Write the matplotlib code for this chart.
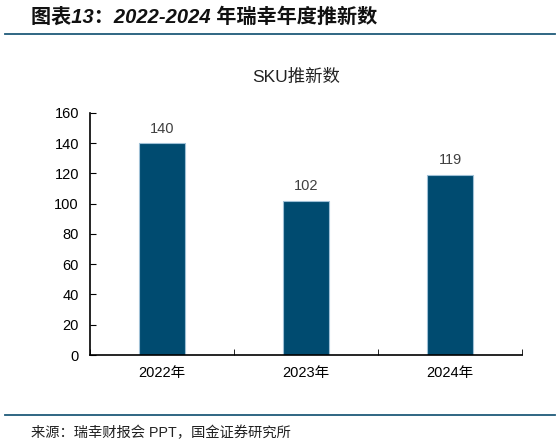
import matplotlib
matplotlib.use("Agg")
import matplotlib.pyplot as plt

# data
years = ["2022年", "2023年", "2024年"]
sku_new = [140, 102, 119]

plt.rcParams['font.family'] = ['Liberation Sans', 'Noto Sans CJK SC', 'DejaVu Sans']

bar_color = '#004B70'
line_color = '#1F5A7A'

dpi = 100
fig = plt.figure(figsize=(559 / dpi, 446 / dpi), dpi=dpi)

# header + source lines
fig.text(0.055, 0.962, "图表13：2022-2024 年瑞幸年度推新数", fontsize=14.5, fontweight='bold',
         style='italic', va='center', ha='left', color='#111111')
fig.add_artist(plt.Line2D([0.009, 0.993], [0.923, 0.923], color=line_color, lw=1.3))
fig.add_artist(plt.Line2D([0.009, 0.993], [0.070, 0.070], color=line_color, lw=1.3))
fig.text(0.055, 0.029, "来源：瑞幸财报会 PPT，国金证券研究所", fontsize=10.3, va='center', ha='left',
         color='#222222')

# chart title
fig.text(0.53, 0.827, "SKU推新数", fontsize=12.5, ha='center', va='center', color='#222222')

ax = fig.add_axes([0.161, 0.204, 0.773, 0.543])
xs = range(len(years))
ax.bar(xs, sku_new, width=0.32, color=bar_color, edgecolor='#9FC0D6', linewidth=0.8, zorder=2)
for x, v in zip(xs, sku_new):
    ax.text(x, v + 5, str(v), ha='center', va='bottom', fontsize=10.5, color='#404040')

ax.set_xlim(-0.5, 2.5)
ax.set_ylim(0, 160)
ax.set_yticks(range(0, 161, 20))
ax.set_xticks(list(xs))
ax.set_xticklabels(years, fontsize=10.5)
ax.tick_params(axis='y', direction='in', length=4, labelsize=10.5, pad=8)
ax.tick_params(axis='x', length=0, pad=8)
# category boundary ticks on x axis
ax.set_xticks([-0.5, 0.5, 1.5, 2.5], minor=True)
ax.tick_params(axis='x', which='minor', direction='in', length=4)
for s in ['top', 'right']:
    ax.spines[s].set_visible(False)
ax.spines['left'].set_linewidth(1.2)
ax.spines['bottom'].set_linewidth(1.2)

fig.savefig('out.png', dpi=dpi)
